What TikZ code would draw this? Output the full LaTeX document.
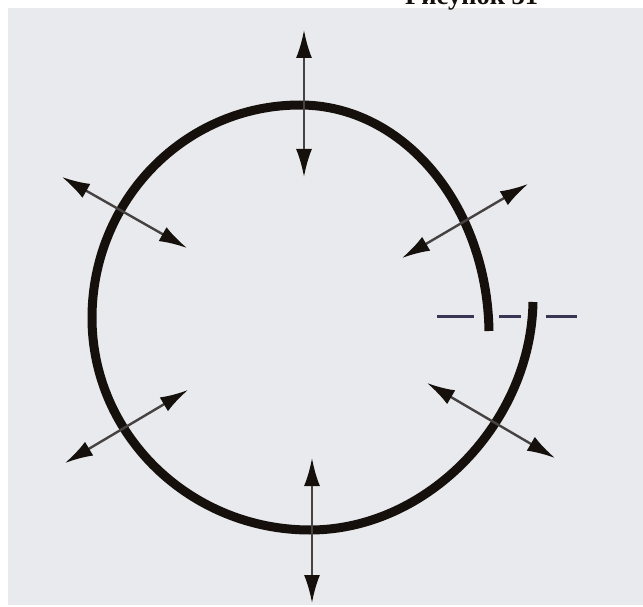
\documentclass[tikz,border=0pt]{standalone}
\usepackage{fontspec}
\setmainfont{Liberation Serif}
\usetikzlibrary{arrows.meta}
\definecolor{paper}{RGB}{233,234,237}
\definecolor{ink}{RGB}{22,16,12}
\definecolor{shaft}{RGB}{70,66,66}
\definecolor{axisink}{RGB}{55,55,85}
\begin{document}
\begin{tikzpicture}[x=1pt,y=-1pt,
  ring/.style={draw=ink, line width=9pt, line cap=butt, line join=round},
  dblarrow/.style={draw=shaft, line width=2.4pt,
    {Latex[length=28pt,width=16pt,color=ink]}-{Latex[length=28pt,width=16pt,color=ink]}},
  axisline/.style={draw=axisink, line width=3pt},
  titletext/.style={anchor=base west, inner sep=0pt, font=\bfseries\fontsize{26.5}{28}\selectfont, text=ink}]
\useasboundingbox (0,0) rectangle (643,607);
\fill[white] (0,0) rectangle (643,607);
\fill[paper] (8,8) rectangle (643,605);
\node[titletext] (title) at (405,5) {Рисунок 31};
% axis line through the gap
\coordinate (ax1) at (437,316); \coordinate (ax2) at (474,316);
\coordinate (ax3) at (499,316); \coordinate (ax4) at (521,316);
\coordinate (ax5) at (546,316); \coordinate (ax6) at (577,316);
\draw[axisline] (ax1) -- (ax2);
\draw[axisline] (ax3) -- (ax4);
\draw[axisline] (ax5) -- (ax6);
% ring (open spiral)
\coordinate (rA) at (489,331);
\coordinate (rB) at (300,105);
\coordinate (rC) at (92,318);
\coordinate (rD) at (310,530);
\coordinate (rE) at (533,302);
\draw[ring] (rA) .. controls (487,206) and (404,105) .. (rB)
  .. controls (185,105) and (92,200) .. (rC)
  .. controls (92,435) and (190,530) .. (rD)
  .. controls (428,530) and (531,422) .. (rE);
% arrows
\coordinate (t1) at (304,30);  \coordinate (t2) at (304,177);
\coordinate (b1) at (312,458); \coordinate (b2) at (312,603);
\coordinate (tl1) at (62,177); \coordinate (tl2) at (187,248);
\coordinate (bl1) at (188,390); \coordinate (bl2) at (65,463);
\coordinate (tr1) at (528,184); \coordinate (tr2) at (402,258);
\coordinate (br1) at (427,383); \coordinate (br2) at (555,458);
\draw[dblarrow] (t1) -- (t2);
\draw[dblarrow] (b1) -- (b2);
\draw[dblarrow] (tl1) -- (tl2);
\draw[dblarrow] (bl1) -- (bl2);
\draw[dblarrow] (tr1) -- (tr2);
\draw[dblarrow] (br1) -- (br2);
\end{tikzpicture}
\end{document}
